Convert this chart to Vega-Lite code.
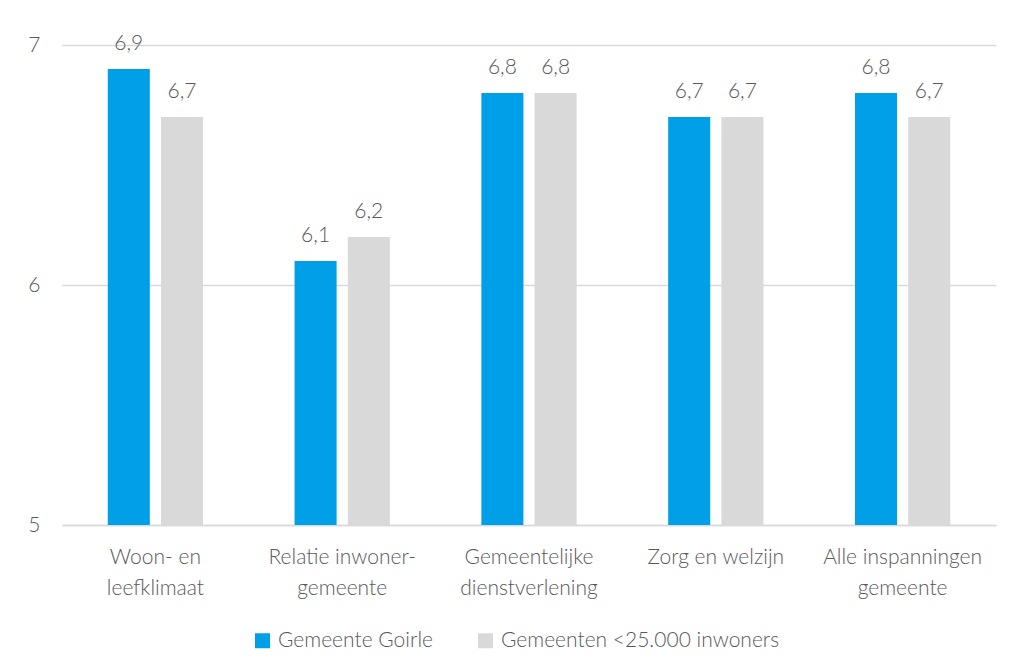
{
  "$schema": "https://vega.github.io/schema/vega-lite/v6.json",
  "width": 934,
  "height": 480,
  "padding": {"top": 32, "left": 27, "right": 14, "bottom": 10},
  "config": {
    "locale": {"number": {"decimal": ",", "thousands": ".", "grouping": [3], "currency": ["€", ""]}},
    "font": "Lato",
    "view": {"stroke": null},
    "axis": {"labelFont": "Lato", "labelColor": "#595959", "labelFontSize": 21, "labelFontWeight": 300},
    "legend": {"labelFont": "Lato", "labelColor": "#595959", "labelFontSize": 21, "labelFontWeight": 300, "labelLimit": 400}
  },
  "data": {
    "values": [
      {"cat": "Woon- en|leefklimaat", "series": "Gemeente Goirle", "value": 6.9},
      {"cat": "Woon- en|leefklimaat", "series": "Gemeenten <25.000 inwoners", "value": 6.7},
      {"cat": "Relatie inwoner-|gemeente", "series": "Gemeente Goirle", "value": 6.1},
      {"cat": "Relatie inwoner-|gemeente", "series": "Gemeenten <25.000 inwoners", "value": 6.2},
      {"cat": "Gemeentelijke|dienstverlening", "series": "Gemeente Goirle", "value": 6.8},
      {"cat": "Gemeentelijke|dienstverlening", "series": "Gemeenten <25.000 inwoners", "value": 6.8},
      {"cat": "Zorg en welzijn", "series": "Gemeente Goirle", "value": 6.7},
      {"cat": "Zorg en welzijn", "series": "Gemeenten <25.000 inwoners", "value": 6.7},
      {"cat": "Alle inspanningen|gemeente", "series": "Gemeente Goirle", "value": 6.8},
      {"cat": "Alle inspanningen|gemeente", "series": "Gemeenten <25.000 inwoners", "value": 6.7}
    ]
  },
  "encoding": {
    "x": {
      "field": "cat", "type": "nominal", "sort": null, "title": null,
      "scale": {"paddingInner": 0.49, "paddingOuter": 0.245},
      "axis": {"labelAngle": 0, "labelExpr": "split(datum.label, '|')", "labelLineHeight": 31, "labelPadding": 21, "ticks": false, "domain": true, "domainColor": "#D9D9D9", "domainWidth": 1.5, "labelBaseline": "top"}
    },
    "xOffset": {"field": "series", "type": "nominal", "scale": {"paddingInner": 0.21, "paddingOuter": 0}},
    "y": {
      "field": "value", "type": "quantitative", "title": null,
      "scale": {"domain": [5, 7], "zero": false, "nice": false},
      "axis": {"values": [5, 6, 7], "labelExpr": "'' + round(datum.value)", "labelOverlap": false, "grid": true, "gridColor": "#D9D9D9", "gridWidth": 1.5, "domain": false, "ticks": false, "labelPadding": 22}
    }
  },
  "layer": [
    {
      "mark": {"type": "bar"},
      "encoding": {
        "y2": {"datum": 5},
        "color": {
          "field": "series", "type": "nominal",
          "scale": {"domain": ["Gemeente Goirle", "Gemeenten <25.000 inwoners"], "range": ["#00A0E9", "#D9D9D9"]},
          "legend": {"title": null, "orient": "none", "legendX": 190, "legendY": 585, "direction": "horizontal", "symbolType": "square", "symbolSize": 225, "symbolStrokeWidth": 0, "columnPadding": 42, "labelOffset": 5}
        }
      }
    },
    {
      "mark": {"type": "text", "baseline": "alphabetic", "dy": -19, "fontSize": 21, "fontWeight": 300, "color": "#595959", "font": "Lato"},
      "encoding": {
        "text": {"field": "value", "type": "quantitative", "format": ".1f"}
      }
    }
  ]
}
